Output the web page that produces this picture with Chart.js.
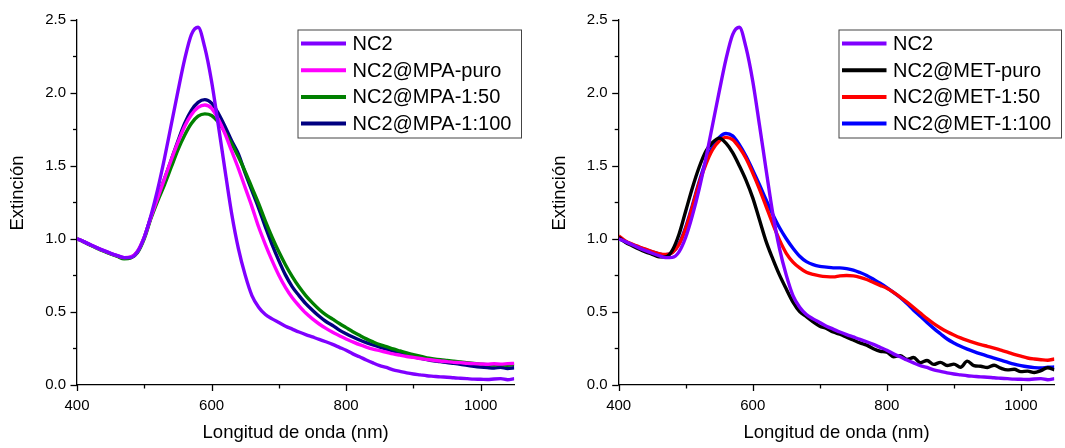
<!DOCTYPE html>
<html><head><meta charset="utf-8">
<script src="https://cdn.jsdelivr.net/npm/chart.js@4/dist/chart.umd.min.js"></script>
<style>
html,body{margin:0;padding:0;background:#fff;}
#wrap{position:relative;width:1065px;height:448px;overflow:hidden;}
canvas{position:absolute;top:0;}
</style></head><body>
<div id="wrap">
<canvas id="c1" width="532" height="448" style="left:0"></canvas>
<canvas id="c2" width="532" height="448" style="left:533px"></canvas>
</div>
<script>
const wavelengths = [400,410,420,430,440,450,460,470,480,490,500,510,520,530,540,550,560,570,580,590,600,610,620,630,640,650,660,670,680,690,700,710,720,730,740,750,760,770,780,790,800,810,820,830,840,850,860,870,880,890,900,910,920,930,940,950,960,970,980,990,1000,1010,1020,1030,1040,1050];

const nc2 = [1.00,0.98,0.958,0.937,0.918,0.90,0.884,0.87,0.872,0.91,1.01,1.16,1.34,1.55,1.78,2.01,2.23,2.40,2.45,2.31,2.08,1.78,1.47,1.17,0.93,0.75,0.61,0.53,0.48,0.45,0.425,0.40,0.38,0.36,0.342,0.326,0.31,0.293,0.275,0.255,0.235,0.21,0.19,0.168,0.148,0.13,0.117,0.10,0.09,0.08,0.072,0.066,0.06,0.056,0.052,0.05,0.046,0.043,0.04,0.037,0.036,0.034,0.038,0.04,0.033,0.04];

const mpaPuro = [1.00,0.98,0.958,0.937,0.918,0.90,0.884,0.87,0.875,0.915,1.01,1.15,1.28,1.41,1.54,1.66,1.77,1.85,1.90,1.917,1.895,1.82,1.72,1.60,1.48,1.35,1.22,1.08,0.96,0.85,0.75,0.665,0.595,0.54,0.49,0.45,0.415,0.385,0.358,0.335,0.312,0.292,0.273,0.257,0.243,0.232,0.221,0.21,0.201,0.192,0.186,0.178,0.172,0.166,0.161,0.157,0.152,0.15,0.146,0.143,0.141,0.139,0.142,0.14,0.143,0.145];

const mpa50 = [1.00,0.978,0.955,0.934,0.914,0.895,0.878,0.862,0.868,0.905,1.0,1.14,1.26,1.37,1.49,1.61,1.71,1.79,1.84,1.856,1.845,1.80,1.73,1.65,1.56,1.46,1.35,1.24,1.12,1.01,0.91,0.82,0.74,0.67,0.61,0.56,0.515,0.478,0.448,0.418,0.39,0.362,0.337,0.313,0.292,0.273,0.259,0.244,0.23,0.216,0.205,0.194,0.183,0.176,0.17,0.165,0.16,0.155,0.15,0.145,0.14,0.136,0.134,0.136,0.132,0.14];

const mpa100 = [1.00,0.98,0.957,0.936,0.916,0.898,0.882,0.866,0.872,0.912,1.01,1.15,1.28,1.41,1.54,1.67,1.79,1.88,1.935,1.954,1.93,1.86,1.77,1.67,1.58,1.45,1.33,1.21,1.08,0.96,0.85,0.75,0.67,0.61,0.555,0.51,0.468,0.432,0.405,0.373,0.348,0.326,0.305,0.287,0.271,0.256,0.242,0.229,0.216,0.203,0.192,0.181,0.171,0.163,0.157,0.15,0.145,0.139,0.131,0.125,0.12,0.116,0.113,0.118,0.11,0.115];

const metPuro = [1.01,0.975,0.952,0.93,0.91,0.893,0.876,0.875,0.92,1.03,1.19,1.35,1.49,1.60,1.66,1.69,1.655,1.59,1.50,1.40,1.28,1.13,0.98,0.86,0.75,0.655,0.565,0.50,0.465,0.43,0.40,0.385,0.36,0.345,0.325,0.305,0.285,0.27,0.245,0.228,0.222,0.19,0.198,0.172,0.185,0.15,0.165,0.138,0.152,0.13,0.14,0.118,0.16,0.13,0.125,0.117,0.132,0.112,0.1,0.105,0.088,0.092,0.082,0.095,0.115,0.1];

const met50 = [1.02,0.985,0.963,0.945,0.928,0.912,0.898,0.892,0.905,0.96,1.07,1.22,1.38,1.51,1.61,1.67,1.695,1.68,1.625,1.55,1.45,1.34,1.22,1.10,0.99,0.90,0.84,0.80,0.77,0.755,0.745,0.74,0.738,0.745,0.748,0.745,0.735,0.72,0.70,0.68,0.66,0.632,0.60,0.565,0.528,0.49,0.452,0.418,0.388,0.362,0.34,0.32,0.303,0.288,0.274,0.262,0.25,0.236,0.222,0.207,0.194,0.182,0.175,0.17,0.166,0.175];

const met100 = [1.00,0.98,0.96,0.942,0.925,0.91,0.896,0.89,0.905,0.965,1.08,1.23,1.39,1.53,1.63,1.695,1.722,1.705,1.645,1.565,1.47,1.37,1.265,1.165,1.075,1.0,0.935,0.88,0.843,0.822,0.81,0.805,0.80,0.80,0.795,0.785,0.768,0.748,0.722,0.695,0.665,0.632,0.597,0.555,0.51,0.468,0.425,0.385,0.348,0.312,0.285,0.262,0.243,0.226,0.21,0.195,0.181,0.167,0.153,0.14,0.13,0.122,0.116,0.113,0.118,0.12];

const xTicks = [400,500,600,700,800,900,1000];
const yTicks = [0,0.25,0.5,0.75,1.0,1.25,1.5,1.75,2.0,2.25,2.5];
const xTitle = 'Longitud de onda (nm)';
const yTitle = 'Extinción';

const leftLabels = ['NC2','NC2@MPA-puro','NC2@MPA-1:50','NC2@MPA-1:100'];
const rightLabels = ['NC2','NC2@MET-puro','NC2@MET-1:50','NC2@MET-1:100'];
const leftColors = ['#8000FF','#FF00FF','#008000','#000080'];
const rightColors = ['#8000FF','#000000','#FF0000','#0000FF'];

const FONT = "'Liberation Sans', Arial, sans-serif";

function pts(arr){ return wavelengths.map((w,i)=>({x:w,y:arr[i]})); }

const deco = {
  id:'deco',
  afterDraw(chart){
    const g = chart.options.plugins.deco;
    const ctx = chart.ctx, xs = chart.scales.x, ys = chart.scales.y, ca = chart.chartArea;
    ctx.save();
    ctx.strokeStyle = '#000'; ctx.lineWidth = 1.3;
    xTicks.forEach(v=>{
      const p = Math.round(xs.getPixelForValue(v))+0.5;
      const L = (v%200===0)?6.5:4;
      ctx.beginPath(); ctx.moveTo(p, ca.bottom); ctx.lineTo(p, ca.bottom+L); ctx.stroke();
    });
    yTicks.forEach(v=>{
      const p = Math.round(ys.getPixelForValue(v))+0.5;
      const L = (Math.abs(v*2-Math.round(v*2))<1e-6)?6.5:4;
      ctx.beginPath(); ctx.moveTo(ca.left, p); ctx.lineTo(ca.left-L, p); ctx.stroke();
    });
    ctx.fillStyle = '#000';
    ctx.font = '18.5px ' + FONT;
    ctx.textAlign = 'center'; ctx.textBaseline = 'middle';
    ctx.fillText(xTitle, (ca.left+ca.right)/2, 433);
    ctx.save();
    ctx.translate(ca.left - 59, 193);
    ctx.rotate(-Math.PI/2);
    ctx.fillText(yTitle, 0, 0);
    ctx.restore();
    const L = g.legend;
    ctx.fillStyle = '#fff';
    ctx.fillRect(L.x, L.y, L.w, L.h);
    ctx.strokeStyle = '#444'; ctx.lineWidth = 1;
    ctx.strokeRect(L.x+0.5, L.y+0.5, L.w, L.h);
    ctx.font = '20px ' + FONT;
    ctx.textAlign = 'left'; ctx.textBaseline = 'middle';
    chart.data.datasets.forEach((ds,i)=>{
      const cy = L.row0 + i*L.step;
      ctx.strokeStyle = ds.borderColor; ctx.lineWidth = 4;
      ctx.beginPath(); ctx.moveTo(L.lx1, cy); ctx.lineTo(L.lx2, cy); ctx.stroke();
      ctx.fillStyle = '#000';
      ctx.fillText(ds.label, L.tx, cy+1);
    });
    ctx.restore();
  }
};

function makeChart(id, series, labels, colors, geom){
  const datasets = series.map((s,i)=>({
    label: labels[i], data: pts(s), borderColor: colors[i], backgroundColor: colors[i],
    borderWidth: 3.4, pointRadius: 0, fill: false, cubicInterpolationMode: 'monotone'
  }));
  return new Chart(document.getElementById(id), {
    type: 'line',
    data: { datasets },
    options: {
      responsive: false, animation: false, events: [],
      layout: { padding: { top: 17, right: geom.padRight, left: 0, bottom: 0 } },
      plugins: { legend: { display: false }, tooltip: { enabled: false }, deco: { legend: geom.legend } },
      scales: {
        x: {
          type: 'linear', min: 400, max: 1050,
          ticks: { stepSize: 200, includeBounds: false, color: '#000', padding: 12, maxRotation: 0,
                   font: { size: 15, family: FONT },
                   callback: v => (v % 200 === 0 ? String(v) : '') },
          grid: { display: true, drawOnChartArea: false, drawTicks: false },
          border: { display: true, color: '#000', width: 1.3 },
          afterFit: s => { s.height = 63.5; }
        },
        y: {
          type: 'linear', min: 0, max: 2.5,
          ticks: { stepSize: 0.5, color: '#000', padding: 11, font: { size: 15, family: FONT },
                   callback: v => Number(v).toFixed(1) },
          grid: { display: true, drawOnChartArea: false, drawTicks: false },
          border: { display: true, color: '#000', width: 1.3 },
          afterFit: s => { s.width = geom.axisLeft; }
        }
      }
    },
    plugins: [deco]
  });
}

makeChart('c1', [nc2, mpaPuro, mpa50, mpa100], leftLabels, leftColors, {
  axisLeft: 77, padRight: 17.7,
  legend: { x: 297.5, y: 29.5, w: 223.5, h: 108, row0: 43.5, step: 26.7, lx1: 301, lx2: 346, tx: 352.5 }
});
makeChart('c2', [nc2, metPuro, met50, met100], rightLabels, rightColors, {
  axisLeft: 85.7, padRight: 10.6,
  legend: { x: 305.5, y: 29.5, w: 222.5, h: 108, row0: 43.5, step: 26.7, lx1: 309, lx2: 353.5, tx: 360 }
});
</script>
</body></html>
